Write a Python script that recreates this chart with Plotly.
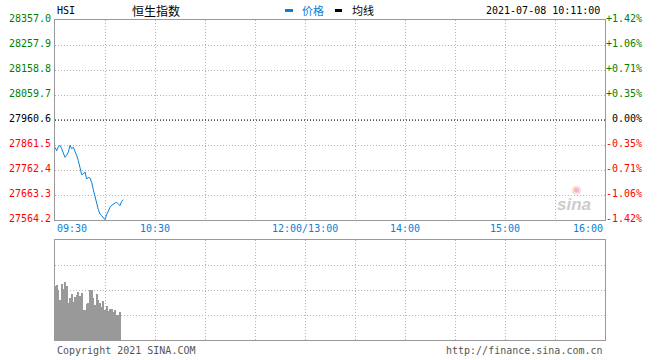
import plotly.graph_objects as go

# ---------------- data ----------------
prev_close = 27960.6
price_levels = [28357.0, 28257.9, 28158.8, 28059.7, 27960.6, 27861.5, 27762.4, 27663.3, 27564.2]
pct_labels = ["+1.42%", "+1.06%", "+0.71%", "+0.35%", "0.00%", "-0.35%", "-0.71%", "-1.06%", "-1.42%"]
time_ticks = [0, 60, 150, 210, 270, 330]
time_labels = ["09:30", "10:30", "12:00/13:00", "14:00", "15:00", "16:00"]

minutes = list(range(42))
price = [27852.3, 27839.0, 27854.9, 27860.2, 27847.0, 27829.8, 27812.6, 27820.5, 27833.8, 27860.2,
         27847.0, 27852.3, 27839.0, 27820.5, 27799.4, 27770.3, 27743.9, 27746.5, 27754.5, 27726.7,
         27733.3, 27730.7, 27713.5, 27684.4, 27651.4, 27631.6, 27605.2, 27588.0, 27581.4, 27574.8,
         27565.5, 27585.3, 27601.2, 27614.4, 27622.3, 27627.6, 27631.6, 27634.2, 27629.0, 27621.0,
         27638.2, 27644.8]
vol_minutes = list(range(40))
volume = [161, 165, 149, 121, 169, 154, 175, 161, 112, 127, 139, 115, 129, 136, 143, 131, 142, 91, 89, 107,
          110, 151, 151, 127, 104, 139, 121, 111, 98, 118, 89, 101, 86, 93, 92, 84, 91, 75, 76, 83]

title_code = "HSI"
title_name = "恒生指数"
legend_names = ["价格", "均线"]
timestamp = "2021-07-08 10:11:00"
footer_left = "Copyright 2021 SINA.COM"
footer_right = "http://finance.sina.com.cn"

# ---------------- styles ----------------
W, H = 660, 360
L, R = 55, 605
MT, MB = 20, 220
VT, VB = 240, 340
BLUE = "#0a7fd6"
GREEN = "#008000"
RED = "#ff0000"
FRAME = "#999999"
GRID = "#b4b4b4"
MONO = "DejaVu Sans Mono, monospace"
DOT = "1px,2px"

def py(p):
    return 1 - p / H

fig = go.Figure()
fig.add_trace(go.Scatter(x=minutes, y=price, mode="lines", line=dict(color=BLUE, width=1),
                         xaxis="x", yaxis="y", showlegend=False, hoverinfo="skip"))
fig.add_trace(go.Bar(x=vol_minutes, y=volume, width=0.45, marker=dict(color="#999999", line=dict(width=0)),
                     xaxis="x2", yaxis="y2", showlegend=False, hoverinfo="skip"))

ax_common = dict(showline=True, mirror=True, linecolor=FRAME, linewidth=1, zeroline=False,
                 showticklabels=False, ticks="", showgrid=True, gridcolor=GRID, griddash=DOT, gridwidth=1)

fig.update_layout(
    width=W, height=H, margin=dict(l=0, r=0, t=0, b=0),
    paper_bgcolor="white", plot_bgcolor="white", showlegend=False, bargap=0,
    xaxis=dict(domain=[L / W, R / W], range=[0, 330], tickmode="linear", tick0=0, dtick=30,
               anchor="y", **ax_common),
    yaxis=dict(domain=[py(MB), py(MT)], range=[price_levels[-1], price_levels[0]],
               tickvals=price_levels, anchor="x", **ax_common),
    xaxis2=dict(domain=[L / W, R / W], range=[0, 330], tickmode="linear", tick0=0, dtick=30,
                anchor="y2", **ax_common),
    yaxis2=dict(domain=[py(VB), py(VT)], range=[0, 300], tickvals=[75, 150, 225], anchor="x2", **ax_common),
)

# previous close line (black dotted)
fig.add_shape(type="line", xref="x", yref="y", x0=0, x1=330, y0=prev_close, y1=prev_close,
              line=dict(color="#000000", width=1, dash=DOT), layer="above")

anns = []
for lv, pc in zip(price_levels, pct_labels):
    col = GREEN if lv > prev_close else (RED if lv < prev_close else "#000000")
    anns.append(dict(x=(L - 2) / W, xref="paper", y=lv, yref="y", text=f"{lv:.1f}", showarrow=False,
                     xanchor="right", yanchor="middle", yshift=2, font=dict(family=MONO, size=10, color=col)))
    anns.append(dict(x=644 / W, xref="paper", y=lv, yref="y", text=pc, showarrow=False,
                     xanchor="right", yanchor="middle", yshift=2, font=dict(family=MONO, size=10, color=col)))

for t, lab in zip(time_ticks, time_labels):
    xa = "left" if t == 0 else ("right" if t == 330 else "center")
    anns.append(dict(x=t, xref="x", y=py(228), yref="paper", text=lab, showarrow=False,
                     xanchor=xa, yanchor="middle", font=dict(family=MONO, size=10, color=BLUE)))

# header
anns.append(dict(x=L / W, xref="paper", y=py(10), yref="paper", text=title_code, showarrow=False,
                 xanchor="left", yanchor="middle", font=dict(family=MONO, size=10, color="#000")))
anns.append(dict(x=130 / W, xref="paper", y=py(10), yref="paper", text=title_name, showarrow=False,
                 xanchor="left", yanchor="middle", font=dict(family="Noto Sans CJK SC", size=12, color="#000")))
anns.append(dict(x=300 / W, xref="paper", y=py(10), yref="paper", text=legend_names[0], showarrow=False,
                 xanchor="left", yanchor="middle", font=dict(family="Noto Sans CJK SC", size=11, color=BLUE)))
anns.append(dict(x=350 / W, xref="paper", y=py(10), yref="paper", text=legend_names[1], showarrow=False,
                 xanchor="left", yanchor="middle", font=dict(family="Noto Sans CJK SC", size=11, color="#000")))
anns.append(dict(x=602 / W, xref="paper", y=py(10), yref="paper", text=timestamp, showarrow=False,
                 xanchor="right", yanchor="middle", font=dict(family=MONO, size=10, color="#000")))
fig.add_shape(type="rect", xref="paper", yref="paper", x0=285 / W, x1=293 / W, y0=py(12), y1=py(9),
              fillcolor=BLUE, line=dict(width=0))
fig.add_shape(type="rect", xref="paper", yref="paper", x0=335 / W, x1=342 / W, y0=py(12), y1=py(9),
              fillcolor="#000", line=dict(width=0))

# footer
anns.append(dict(x=L / W, xref="paper", y=py(350), yref="paper", text=footer_left, showarrow=False,
                 xanchor="left", yanchor="middle", font=dict(family=MONO, size=10, color="#555")))
anns.append(dict(x=R / W, xref="paper", y=py(350), yref="paper", text=footer_right, showarrow=False,
                 xanchor="right", yanchor="middle", font=dict(family=MONO, size=10, color="#555")))

# watermark
anns.append(dict(x=574 / W, xref="paper", y=py(204), yref="paper", text="<b><i>sina</i></b>", showarrow=False,
                 xanchor="center", yanchor="middle", font=dict(family="Liberation Sans", size=17, color="#cccccc")))
anns.append(dict(x=577 / W, xref="paper", y=py(189), yref="paper", text="◉", showarrow=False,
                 xanchor="center", yanchor="middle", font=dict(family="DejaVu Sans", size=11, color="#f2b8b8")))

fig.update_layout(annotations=anns)
fig.write_html("out.html", config={"displayModeBar": False},
               post_script="document.body.style.margin='0';document.body.style.overflow='hidden';")
